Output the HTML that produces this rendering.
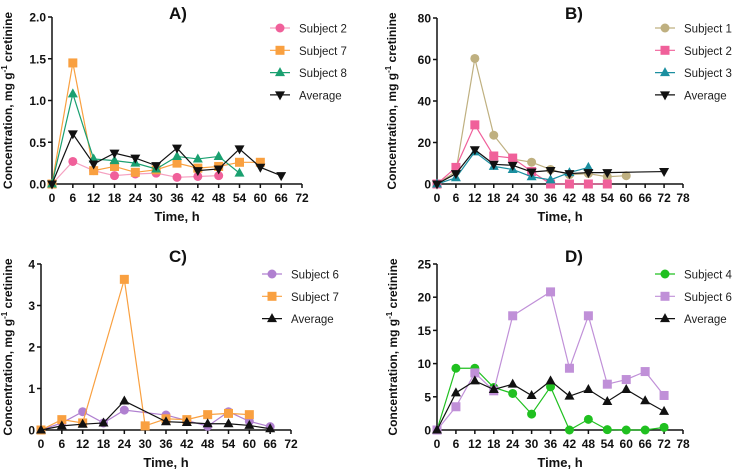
<!DOCTYPE html>
<html><head><meta charset="utf-8"><style>
body{margin:0;background:#fff}
svg{display:block;font-family:"Liberation Sans",Arial,sans-serif}
.tk{font-size:12px;font-weight:bold;fill:#111}
.tt{font-size:13px;font-weight:bold;fill:#111}
.yt{font-size:12px;font-weight:bold;fill:#111}
.lg{font-size:11.5px;fill:#222}
</style></head><body>
<svg id="chart" width="735" height="472" viewBox="0 0 735 472"></svg>
<script>
// Panel A data
const aSub2X=[0,6,12,18,24,30,36,42,48];
const aSub2Y=[0,0.27,0.16,0.1,0.12,0.13,0.08,0.09,0.1];
const aSub7X=[0,6,12,18,24,30,36,42,48,54,60];
const aSub7Y=[0,1.45,0.16,0.21,0.14,0.17,0.25,0.19,0.21,0.26,0.26];
const aSub8X=[0,6,12,18,24,30,36,42,48,54];
const aSub8Y=[0,1.08,0.3,0.28,0.25,0.18,0.33,0.3,0.33,0.13];
const aAvgX=[0,6,12,18,24,30,36,42,48,54,60,66];
const aAvgY=[0,0.6,0.24,0.37,0.31,0.22,0.43,0.16,0.18,0.42,0.2,0.1];
const aYTicks=["0.0","0.5","1.0","1.5","2.0"];
// Panel B data
const bSub1X=[0,6,12,18,24,30,36,42,48,54,60];
const bSub1Y=[0,6,60.5,23.5,12,10.5,7,4.5,5,3.5,4];
const bSub2X=[0,6,12,18,24,30,36,42,48,54];
const bSub2Y=[0,8,28.5,13.5,12.5,6,0,0,0,0];
const bSub3X=[0,6,12,18,24,30,36,42,48];
const bSub3Y=[0,3,15.5,8.5,7,3.5,2,5.5,8];
const bAvgX=[0,6,12,18,24,30,36,42,48,54,72];
const bAvgY=[0,5,16.5,9.5,9,5.8,6.5,5,5.5,5.5,6];
const bYTicks=["0","20","40","60","80"];
// Panel C data
const cSub6X=[0,6,12,18,24,36,42,48,54,60,66];
const cSub6Y=[0,0.17,0.44,0.17,0.48,0.36,0.23,0.09,0.44,0.21,0.08];
const cSub7X=[0,6,12,24,30,36,42,48,54,60];
const cSub7Y=[0,0.25,0.17,3.63,0.1,0.27,0.25,0.37,0.4,0.37];
const cAvgX=[0,6,12,18,24,36,42,48,54,60,66];
const cAvgY=[0,0.1,0.14,0.17,0.7,0.2,0.18,0.15,0.15,0.11,0.03];
const cYTicks=["0","1","2","3","4"];
// Panel D data
const dSub4X=[0,6,12,18,24,30,36,42,48,54,60,66,72];
const dSub4Y=[0,9.3,9.3,6.4,5.5,2.4,6.5,0,1.6,0.05,0,0,0.4];
const dSub6X=[0,6,12,18,24,36,42,48,54,60,66,72];
const dSub6Y=[0,3.5,8.6,5.9,17.2,20.8,9.3,17.2,6.9,7.6,8.8,5.2];
const dAvgX=[0,6,12,18,24,30,36,42,48,54,60,66,72];
const dAvgY=[0,5.6,7.4,6.1,6.9,5.2,7.4,5.1,6.1,4.3,6.1,4.4,2.8];
const dYTicks=["0","5","10","15","20","25"];

const NS="http://www.w3.org/2000/svg";
const svg=document.getElementById('chart');
function mk(tag,attrs,parent,text){const e=document.createElementNS(NS,tag);for(const k in attrs)e.setAttribute(k,attrs[k]);if(text!==undefined)e.textContent=text;(parent||svg).appendChild(e);return e;}
function marker(g,shape,x,y,color){
  const r=4.5;let m;
  if(shape==='circle')m=mk('circle',{cx:x,cy:y,r:r,fill:color},g);
  else if(shape==='square')m=mk('rect',{x:x-r,y:y-r,width:2*r,height:2*r,fill:color},g);
  else if(shape==='tri')m=mk('polygon',{points:`${x},${y-r-1} ${x-r-0.5},${y+r-1} ${x+r+0.5},${y+r-1}`,fill:color},g);
  else m=mk('polygon',{points:`${x},${y+r+1} ${x-r-0.5},${y-r+1} ${x+r+0.5},${y-r+1}`,fill:color},g);
  
  
}
function panel(p){
  const g=mk('g',{});
  
  
  const sx=v=>p.x0+(v/p.xmax)*(p.x1-p.x0);
  const sy=v=>p.y0-(v/p.ymax)*(p.y0-p.y1);
  const t=mk('text',{x:p.tx,y:p.ty,'text-anchor':'middle','font-size':'17','font-weight':'bold',fill:'#111'},g,p.id+')');
  
  const ya=mk('line',{x1:p.x0,y1:p.y0,x2:p.x0,y2:p.y1,stroke:'#111','stroke-width':1.5},g);
  
  const xa=mk('line',{x1:p.x0,y1:p.y0,x2:p.x1,y2:p.y0,stroke:'#111','stroke-width':1.5},g);
  
  p.yt.forEach((lab,i)=>{const v=i*p.ymax/(p.yt.length-1);const y=sy(v);
    mk('line',{x1:p.x0-4,y1:y,x2:p.x0,y2:y,stroke:'#111','stroke-width':1.5},g);
    const e=mk('text',{x:p.x0-6,y:y+4.5,'text-anchor':'end',class:'tk'},g,lab);
    });
  for(let v=0;v<=p.xmax;v+=6){const x=sx(v);
    mk('line',{x1:x,y1:p.y0,x2:x,y2:p.y0+4,stroke:'#111','stroke-width':1.5},g);
    const e=mk('text',{x:x,y:p.y0+18,'text-anchor':'middle',class:'tk'},g,String(v));
    }
  const xt=mk('text',{x:(p.x0+p.x1)/2,y:p.y0+37,'text-anchor':'middle',class:'tt'},g,'Time, h');
  
  const yc=(p.y0+p.y1)/2;
  const yt=mk('text',{x:0,y:0,'text-anchor':'middle',class:'yt',transform:`translate(${p.yx},${yc}) rotate(-90)`},g);
  
  yt.appendChild(document.createTextNode('Concentration, mg g'));
  mk('tspan',{dy:-5,'font-size':'8'},yt,'-1');
  mk('tspan',{dy:5},yt,' cretinine');
  p.series.forEach((s,i)=>{
    const sg=mk('g',{},g);
    
    
    const pts=s.xs.map((x,j)=>sx(x)+','+sy(s.ys[j])).join(' ');
    mk('polyline',{points:pts,fill:'none',stroke:s.line||s.color,'stroke-width':1.2},sg);
    s.xs.forEach((x,j)=>marker(sg,s.shape,sx(x),sy(s.ys[j]),s.color));
    const ly=p.ly+i*22.3;
    const lg=mk('g',{},g);
    
    
    mk('line',{x1:p.lx-10,y1:ly,x2:p.lx+10,y2:ly,stroke:s.line||s.color,'stroke-width':1.2},lg);
    marker(lg,s.shape,p.lx,ly,s.color);
    mk('text',{x:p.lx+19,y:ly+4.5,class:'lg'},lg,s.name);
  });
}
panel({id:'A',x0:52,x1:302,xmax:72,y0:184,y1:17,ymax:2,yt:aYTicks,tx:178,ty:19,yx:12,lx:280,ly:28,
 series:[{name:'Subject 2',xs:aSub2X,ys:aSub2Y,color:'#f0609a',line:'#f5a0c0',shape:'circle'},
 {name:'Subject 7',xs:aSub7X,ys:aSub7Y,color:'#f9a040',shape:'square'},
 {name:'Subject 8',xs:aSub8X,ys:aSub8Y,color:'#1aa070',shape:'tri'},
 {name:'Average',xs:aAvgX,ys:aAvgY,color:'#111',shape:'dtri'}]});
panel({id:'B',x0:437,x1:683,xmax:78,y0:184,y1:18,ymax:80,yt:bYTicks,tx:574,ty:19,yx:396,lx:665,ly:28,
 series:[{name:'Subject 1',xs:bSub1X,ys:bSub1Y,color:'#bfb080',shape:'circle'},
 {name:'Subject 2',xs:bSub2X,ys:bSub2Y,color:'#f0609a',shape:'square'},
 {name:'Subject 3',xs:bSub3X,ys:bSub3Y,color:'#1b8fa0',shape:'tri'},
 {name:'Average',xs:bAvgX,ys:bAvgY,color:'#111',shape:'dtri'}]});
panel({id:'C',x0:41,x1:291,xmax:72,y0:430,y1:264,ymax:4,yt:cYTicks,tx:178,ty:262,yx:12,lx:272,ly:274,
 series:[{name:'Subject 6',xs:cSub6X,ys:cSub6Y,color:'#b080d0',shape:'circle'},
 {name:'Subject 7',xs:cSub7X,ys:cSub7Y,color:'#f9a040',shape:'square'},
 {name:'Average',xs:cAvgX,ys:cAvgY,color:'#111',shape:'tri'}]});
panel({id:'D',x0:437,x1:683,xmax:78,y0:430,y1:264,ymax:25,yt:dYTicks,tx:574,ty:262,yx:397,lx:665,ly:274,
 series:[{name:'Subject 4',xs:dSub4X,ys:dSub4Y,color:'#20c020',shape:'circle'},
 {name:'Subject 6',xs:dSub6X,ys:dSub6Y,color:'#c090d8',shape:'square'},
 {name:'Average',xs:dAvgX,ys:dAvgY,color:'#111',shape:'tri'}]});
</script>
</body></html>
